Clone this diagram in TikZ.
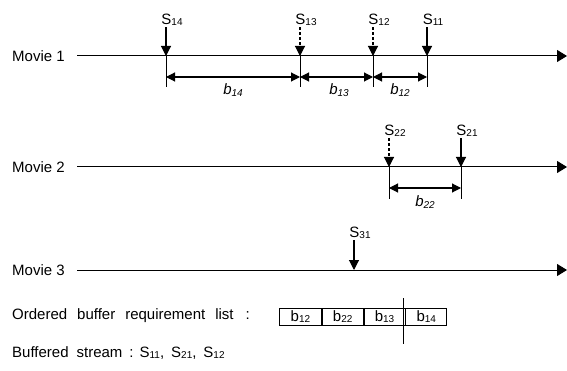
\documentclass[tikz,border=0pt]{standalone}
\usepackage{fontspec}
\setmainfont{Liberation Sans}
\usetikzlibrary{arrows.meta}
\newcommand\subn[1]{\raisebox{-1.4pt}{\fontsize{10}{11}\selectfont #1}}
\begin{document}
\begin{tikzpicture}[x=1pt,y=-1pt,
 lbl/.style={font=\fontsize{15}{18}\selectfont, anchor=west, inner sep=0pt},
 slbl/.style={font=\fontsize{15}{17}\selectfont, inner sep=1pt},
 axis/.style={line width=1pt,-{Triangle[length=10pt,width=12pt]}},
 drop/.style={line width=1.1pt,-{Triangle[length=10pt,width=10pt]}},
 dropd/.style={drop,dash pattern=on 3pt off 2pt},
 tickln/.style={line width=1pt},
 dim/.style={line width=1.1pt,{Triangle[length=9pt,width=9pt]}-{Triangle[length=9pt,width=9pt]}},
 blbl/.style={font=\fontsize{15}{17}\selectfont\itshape, inner sep=0pt},
 cell/.style={draw, line width=0.8pt, minimum height=17pt, inner sep=0pt, font=\fontsize{15}{17}\selectfont},
]
\useasboundingbox (0,0) rectangle (567,371);

% ---------- Movie 1 ----------
\node[lbl] (mv1) at (12,56) {Movie 1};
\coordinate (m1s) at (77,56);
\coordinate (m1e) at (567,56);
\draw[axis] (m1s) -- (m1e);

\coordinate (p14) at (166,56);
\coordinate (p13) at (300,56);
\coordinate (p12) at (373,56);
\coordinate (p11) at (427,56);

\node[slbl] (s14) at (172,20) {S\subn{14}};
\node[slbl] (s13) at (306,20) {S\subn{13}};
\node[slbl] (s12) at (379,20) {S\subn{12}};
\node[slbl] (s11) at (433,20) {S\subn{11}};

\draw[drop]  (s14.south -| p14) -- (p14);
\draw[dropd] (s13.south -| p13) -- (p13);
\draw[dropd] (s12.south -| p12) -- (p12);
\draw[drop]  (s11.south -| p11) -- (p11);

\coordinate (t14) at (166,87);
\coordinate (t13) at (300,87);
\coordinate (t12) at (373,87);
\coordinate (t11) at (427,87);
\foreach \n in {14,13,12,11} \draw[tickln] (p\n) -- (t\n);

\coordinate (d14) at (166,77);
\coordinate (d13) at (300,77);
\coordinate (d12) at (373,77);
\coordinate (d11) at (427,77);
\draw[dim] (d14) -- (d13);
\draw[dim] (d13) -- (d12);
\draw[dim] (d12) -- (d11);

\node[blbl] (b14) at (233,90) {b\subn{14}};
\node[blbl] (b13) at (339,90) {b\subn{13}};
\node[blbl] (b12) at (400,90) {b\subn{12}};

% ---------- Movie 2 ----------
\node[lbl] (mv2) at (12,167) {Movie 2};
\coordinate (m2s) at (77,167);
\coordinate (m2e) at (567,167);
\draw[axis] (m2s) -- (m2e);

\coordinate (p22) at (389,167);
\coordinate (p21) at (461,167);
\node[slbl] (s22) at (395,131) {S\subn{22}};
\node[slbl] (s21) at (467,131) {S\subn{21}};
\draw[dropd] (s22.south -| p22) -- (p22);
\draw[drop]  (s21.south -| p21) -- (p21);

\coordinate (t22) at (389,199);
\coordinate (t21) at (461,199);
\draw[tickln] (p22) -- (t22);
\draw[tickln] (p21) -- (t21);
\coordinate (d22) at (389,188);
\coordinate (d21) at (461,188);
\draw[dim] (d22) -- (d21);
\node[blbl] (b22) at (425,202) {b\subn{22}};

% ---------- Movie 3 ----------
\node[lbl] (mv3) at (12,270) {Movie 3};
\coordinate (m3s) at (77,270);
\coordinate (m3e) at (567,270);
\draw[axis] (m3s) -- (m3e);

\coordinate (p31) at (354,270);
\node[slbl] (s31) at (360,233) {S\subn{31}};
\draw[drop] (s31.south -| p31) -- (p31);

% ---------- List ----------
\node[lbl] (olist) at (12,316) {Ordered\hspace{10pt}buffer\hspace{10pt}requirement\hspace{10pt}list\hspace{12pt}:};
\node[cell, minimum width=42pt, anchor=west] (c1) at (279,316.5) {b\subn{12}};
\node[cell, minimum width=41pt, anchor=west] (c2) at (c1.east) {b\subn{22}};
\node[cell, minimum width=41pt, anchor=west] (c3) at (c2.east) {b\subn{13}};
\node[cell, minimum width=41pt, anchor=west] (c4) at (c3.east) {b\subn{14}};
\coordinate (vtop) at (403,298);
\coordinate (vbot) at (403,344);
\draw[line width=0.8pt] (vtop) -- (vbot);

\node[lbl] (bstream) at (12,353) {Buffered\hspace{8pt}stream\hspace{7pt}:\hspace{6pt}S\subn{11},\hspace{7pt}S\subn{21},\hspace{7pt}S\subn{12}};

\end{tikzpicture}
\end{document}
